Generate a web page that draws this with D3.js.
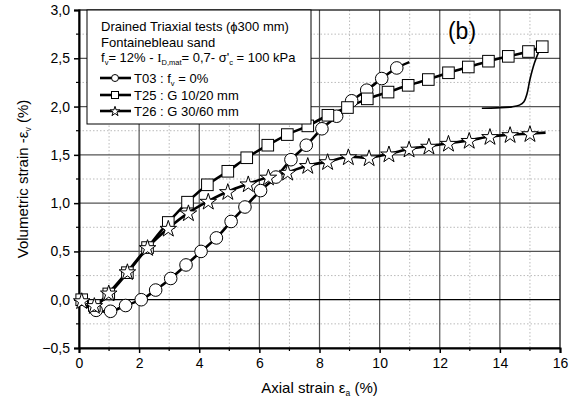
<!DOCTYPE html>
<html lang="en">
<head>
<meta charset="utf-8">
<title>Drained triaxial tests - volumetric strain</title>
<script src="https://d3js.org/d3.v7.min.js"></script>
<style>
  body { margin: 0; background: #fff; }
  svg text { font-family: "Liberation Sans", Arial, sans-serif; fill: #000; }
</style>
</head>
<body>
<script>
// axis ticks
var xTicks = [0, 2, 4, 6, 8, 10, 12, 14, 16];
var yTicks = [-0.5, 0, 0.5, 1, 1.5, 2, 2.5, 3];

// T03 : fv = 0% (circles) - first and last points are line only
var t03 = [[0.05,-0.03],[0.57,-0.11],[1.05,-0.12],[1.55,-0.06],[2.07,0.0],[2.55,0.10],[3.05,0.22],
  [3.56,0.36],[4.06,0.50],[4.57,0.64],[5.06,0.81],[5.52,0.96],[6.04,1.13],[6.55,1.27],[7.05,1.45],
  [7.56,1.60],[8.08,1.77],[8.57,1.90],[9.07,2.06],[9.57,2.17],[10.07,2.29],[10.57,2.40],[10.99,2.46]];

// T25 : G 10/20 mm (squares)
var t25 = [[0.09,0.0],[0.51,-0.06],[0.99,0.06],[1.61,0.28],[2.28,0.54],[2.97,0.80],[3.61,1.01],
  [4.27,1.19],[4.95,1.33],[5.58,1.47],[6.28,1.60],[6.93,1.71],[7.61,1.80],[8.28,1.91],[8.93,1.99],
  [9.59,2.08],[10.28,2.15],[10.95,2.22],[11.62,2.28],[12.29,2.35],[12.95,2.41],[13.62,2.47],
  [14.28,2.52],[14.95,2.57],[15.41,2.62]];
// T25 unloading branch (thin line, no markers)
var t25Unload = [[15.35,2.61],[15.15,2.45],[15.0,2.28],[14.9,2.13],[14.8,2.05],[14.65,2.015],
  [14.4,1.997],[13.9,1.987],[13.4,1.982]];

// T26 : G 30/60 mm (stars) - last point is line only
var t26 = [[0.09,-0.01],[0.51,-0.06],[0.99,0.07],[1.61,0.29],[2.28,0.54],[2.97,0.74],[3.64,0.90],
  [4.30,1.02],[4.95,1.12],[5.63,1.20],[6.30,1.27],[6.94,1.32],[7.61,1.39],[8.27,1.43],[8.96,1.48],
  [9.65,1.47],[10.31,1.51],[10.98,1.56],[11.64,1.59],[12.29,1.62],[12.98,1.65],[13.67,1.69],
  [14.34,1.71],[15.0,1.72],[15.52,1.73]];

var w = 575, h = 401;
var pL = 79, pT = 10, pR = 560, pB = 348;

var svg = d3.select("body").append("svg")
  .attr("width", w).attr("height", h);

var x = d3.scaleLinear().domain([0, 16]).range([pL, pR]);
var y = d3.scaleLinear().domain([-0.5, 3]).range([pB, pT]);

// minor grid (dotted)
var g = svg.append("g");
g.selectAll(".mx").data(d3.range(1, 16, 2)).enter().append("line")
  .attr("x1", function(d) { return x(d); }).attr("x2", function(d) { return x(d); })
  .attr("y1", pT).attr("y2", pB)
  .attr("stroke", "#aaa").attr("stroke-width", 0.8).attr("stroke-dasharray", "1.5,2");
g.selectAll(".my").data(d3.range(-0.25, 3, 0.5)).enter().append("line")
  .attr("y1", function(d) { return y(d); }).attr("y2", function(d) { return y(d); })
  .attr("x1", pL).attr("x2", pR)
  .attr("stroke", "#aaa").attr("stroke-width", 0.8).attr("stroke-dasharray", "1.5,2");

// major grid
g.selectAll(".Mx").data(xTicks.slice(1, -1)).enter().append("line")
  .attr("x1", function(d) { return x(d); }).attr("x2", function(d) { return x(d); })
  .attr("y1", pT).attr("y2", pB)
  .attr("stroke", "#555").attr("stroke-width", 1.2);
g.selectAll(".My").data(yTicks.slice(1, -1)).enter().append("line")
  .attr("y1", function(d) { return y(d); }).attr("y2", function(d) { return y(d); })
  .attr("x1", pL).attr("x2", pR)
  .attr("stroke", function(d) { return d === 0 ? "#000" : "#555"; })
  .attr("stroke-width", 1.2);

// frame
svg.append("rect").attr("x", pL).attr("y", pT)
  .attr("width", pR - pL).attr("height", pB - pT)
  .attr("fill", "none").attr("stroke", "#000").attr("stroke-width", 1.2);

// axes
var xAxis = d3.axisBottom(x).tickValues(xTicks).tickSize(5).tickPadding(5)
  .tickFormat(d3.format("d"));
var yAxis = d3.axisLeft(y).tickValues(yTicks).tickSize(5).tickPadding(4)
  .tickFormat(function(d) { return d3.format(".1f")(d).replace(".", ","); });

var gx = svg.append("g").attr("transform", "translate(0," + pB + ")").call(xAxis);
var gy = svg.append("g").attr("transform", "translate(" + pL + ",0)").call(yAxis);
[gx, gy].forEach(function(a) {
  a.select(".domain").attr("stroke-width", 2);
  a.selectAll(".tick line").attr("stroke-width", 1.5);
  a.selectAll("text").attr("font-size", 14).attr("font-family", "Liberation Sans, Arial, sans-serif");
});

// minor ticks
svg.append("g").selectAll("line").data(d3.range(1, 16, 2)).enter().append("line")
  .attr("x1", function(d) { return x(d); }).attr("x2", function(d) { return x(d); })
  .attr("y1", pB).attr("y2", pB + 3).attr("stroke", "#000").attr("stroke-width", 1.2);
svg.append("g").selectAll("line").data(d3.range(-0.25, 3, 0.5)).enter().append("line")
  .attr("y1", function(d) { return y(d); }).attr("y2", function(d) { return y(d); })
  .attr("x1", pL).attr("x2", pL - 3).attr("stroke", "#000").attr("stroke-width", 1.2);

// lines
var line = d3.line().x(function(d) { return x(d[0]); }).y(function(d) { return y(d[1]); })
  .curve(d3.curveCatmullRom.alpha(0.5));
svg.append("path").datum(t25Unload).attr("d", line)
  .attr("fill", "none").attr("stroke", "#000").attr("stroke-width", 1.6);
[t03, t25, t26].forEach(function(s) {
  svg.append("path").datum(s).attr("d", line)
    .attr("fill", "none").attr("stroke", "#000").attr("stroke-width", 2.6);
});

// markers
var star = d3.symbol().type(d3.symbolStar).size(85);
function drawCircles(sel, pts) {
  sel.selectAll(".c").data(pts).enter().append("circle")
    .attr("cx", function(d) { return x(d[0]); }).attr("cy", function(d) { return y(d[1]); })
    .attr("r", 6.3).attr("fill", "#fff").attr("stroke", "#000").attr("stroke-width", 1);
}
function drawSquares(sel, pts) {
  sel.selectAll(".s").data(pts).enter().append("rect")
    .attr("x", function(d) { return x(d[0]) - 5.8; }).attr("y", function(d) { return y(d[1]) - 5.8; })
    .attr("width", 11.6).attr("height", 11.6).attr("fill", "#fff").attr("stroke", "#000").attr("stroke-width", 1);
}
function drawStars(sel, pts) {
  sel.selectAll(".st").data(pts).enter().append("path")
    .attr("d", star)
    .attr("transform", function(d) { return "translate(" + x(d[0]) + "," + (y(d[1]) + 0.8) + ")"; })
    .attr("fill", "#fff").attr("stroke", "#000").attr("stroke-width", 1);
}
drawCircles(svg.append("g"), t03.slice(1, -1));
drawSquares(svg.append("g"), t25);
drawStars(svg.append("g"), t26.slice(0, -1));

// legend box
var lg = svg.append("g");
lg.append("rect").attr("x", 87).attr("y", pT).attr("width", 224).attr("height", 114)
  .attr("fill", "#fff").attr("stroke", "#000").attr("stroke-width", 1);

var fs = 13;
lg.append("text").attr("x", 101).attr("y", 31).attr("font-size", fs)
  .text("Drained Triaxial tests  (\u03D5300 mm)");
lg.append("text").attr("x", 101).attr("y", 47).attr("font-size", fs)
  .text("Fontainebleau sand");
var t3 = lg.append("text").attr("x", 101).attr("y", 62).attr("font-size", fs);
t3.append("tspan").text("f");
t3.append("tspan").attr("font-size", 7.5).attr("dy", 3).text("v");
t3.append("tspan").attr("dy", -3).text("= 12% - ");
t3.append("tspan").attr("font-family", "Liberation Serif, serif").text("I");
t3.append("tspan").attr("font-size", 7.5).attr("dy", 3).text("D,mat");
t3.append("tspan").attr("dy", -3).text("= 0,7- \u03C3'");
t3.append("tspan").attr("font-size", 7.5).attr("dy", 3).text("c");
t3.append("tspan").attr("dy", -3).text(" = 100 kPa");

var legendRows = [
  { y: 78, type: "circle", label: ["T03 : f", "v", " = 0%"] },
  { y: 95, type: "square", label: ["T25 : G 10/20 mm"] },
  { y: 111, type: "star", label: ["T26 : G 30/60 mm"] }
];
legendRows.forEach(function(r) {
  lg.append("line").attr("x1", 100).attr("x2", 131).attr("y1", r.y).attr("y2", r.y)
    .attr("stroke", "#000").attr("stroke-width", 2.6);
  if (r.type === "circle") {
    lg.append("circle").attr("cx", 115).attr("cy", r.y).attr("r", 3.5)
      .attr("fill", "#fff").attr("stroke", "#000").attr("stroke-width", 1);
  } else if (r.type === "square") {
    lg.append("rect").attr("x", 111.5).attr("y", r.y - 3.5).attr("width", 7).attr("height", 7)
      .attr("fill", "#fff").attr("stroke", "#000").attr("stroke-width", 1);
  } else {
    lg.append("path").attr("d", d3.symbol().type(d3.symbolStar).size(30))
      .attr("transform", "translate(115," + (r.y + 0.5) + ")")
      .attr("fill", "#fff").attr("stroke", "#000").attr("stroke-width", 1);
  }
  var t = lg.append("text").attr("x", 134).attr("y", r.y + 4.5).attr("font-size", fs);
  t.append("tspan").text(r.label[0]);
  if (r.label.length > 1) {
    t.append("tspan").attr("font-size", 7.5).attr("dy", 3).text(r.label[1]);
    t.append("tspan").attr("dy", -3).text(r.label[2]);
  }
});

// panel tag
svg.append("text").attr("x", 462).attr("y", 39).attr("text-anchor", "middle")
  .attr("font-size", 23).text("(b)");

// axis titles
var xt = svg.append("text").attr("x", (pL + pR) / 2).attr("y", 393)
  .attr("text-anchor", "middle").attr("font-size", 15);
xt.append("tspan").text("Axial strain \u03B5");
xt.append("tspan").attr("font-size", 8.5).attr("dy", 3).text("a");
xt.append("tspan").attr("dy", -3).text(" (%)");

var yt = svg.append("text").attr("transform", "translate(28," + ((pT + pB) / 2) + ") rotate(-90)")
  .attr("text-anchor", "middle").attr("font-size", 15);
yt.append("tspan").text("Volumetric strain -\u03B5");
yt.append("tspan").attr("font-size", 8.5).attr("dy", 3).text("v");
yt.append("tspan").attr("dy", -3).text(" (%)");
</script>
</body>
</html>
